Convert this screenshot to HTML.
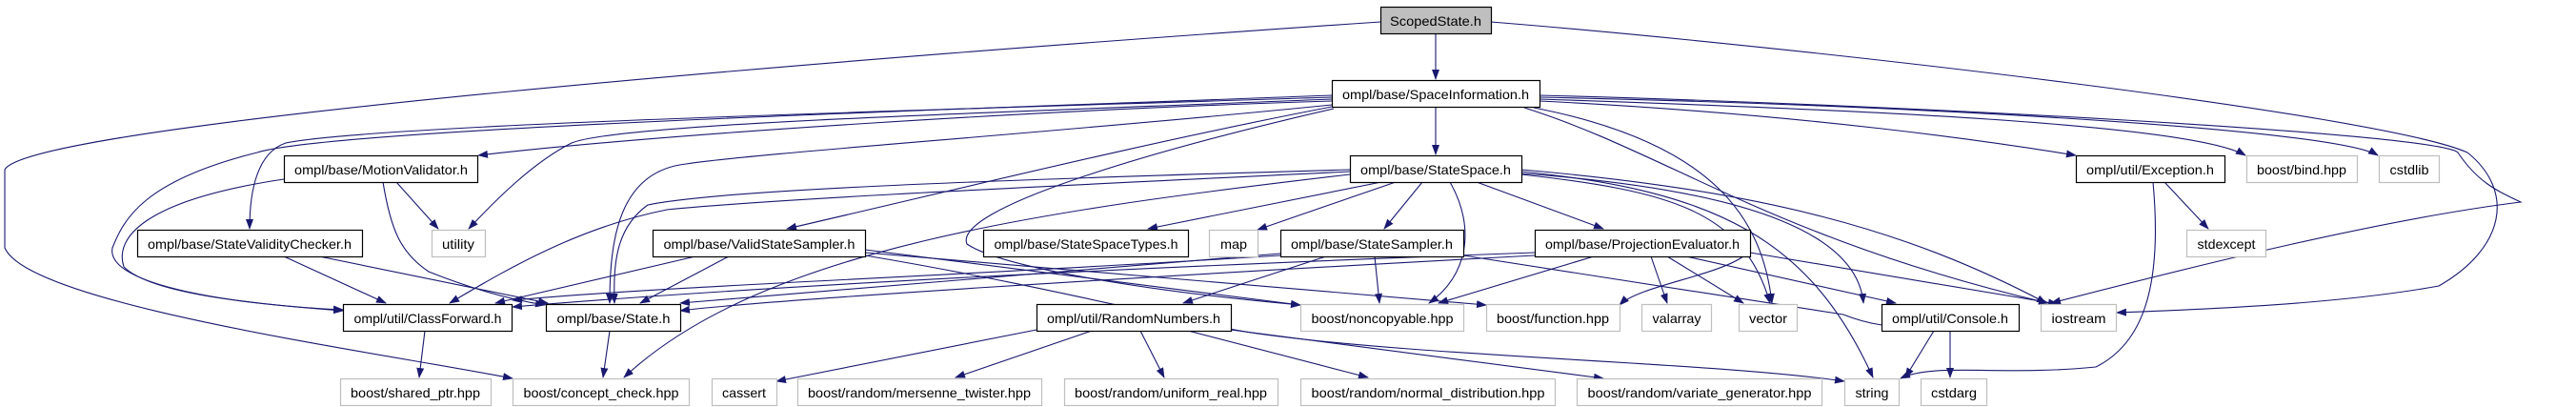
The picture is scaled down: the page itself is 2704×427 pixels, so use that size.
<!DOCTYPE html>
<html><head><meta charset="utf-8"><style>
html,body{margin:0;padding:0;background:#fff;}
svg{display:block;}
text{font-family:"Liberation Sans",sans-serif;font-size:14px;fill:#000;}
</style></head><body>
<svg width="2704" height="427" viewBox="0 0 2704 427" xmlns="http://www.w3.org/2000/svg">
<defs>
<marker id="a" markerWidth="11" markerHeight="8" refX="10" refY="4" orient="auto" markerUnits="userSpaceOnUse">
<path d="M0,0 L11,4 L0,8 z" fill="#191970"/>
</marker>
</defs>
<g fill="none" stroke="#191970" stroke-width="1.1" marker-end="url(#a)">
<!-- ScopedState -->
<path d="M1507,35 L1507,83"/>
<path d="M1449,23 C900,60 30,130 5,178 L5,260 C30,320 400,370 538,397"/>
<path d="M1565,23 C1900,50 2500,120 2590,160 C2640,200 2630,260 2560,300 C2450,320 2300,325 2222,328"/>
<!-- SpaceInformation -->
<path d="M1507,113 L1507,162"/>
<path d="M1398,106 C1100,115 700,140 502,163"/>
<path d="M1398,102 C1000,115 400,130 300,150 C270,160 262,200 262,240"/>
<path d="M1398,100 C1000,115 350,135 270,160 C150,190 130,230 118,260 C110,300 250,320 360,325"/>
<path d="M1398,104 C1000,120 650,130 600,150 C560,170 520,210 492,240"/>
<path d="M1398,110 C1100,140 800,160 720,172 C650,180 640,250 640,318"/>
<path d="M1398,112 C1200,150 1000,200 826,240"/>
<path d="M1400,114 C1200,160 1000,220 1015,256 C1050,280 1200,305 1365,320"/>
<path d="M1616,106 C1900,120 2100,150 2179,163"/>
<path d="M1616,104 C1950,115 2300,130 2357,163"/>
<path d="M1616,102 C2000,110 2450,135 2496,163"/>
<path d="M1616,100 C2000,110 2560,140 2580,160 C2600,190 2620,200 2646,212 C2500,230 2300,280 2153,318"/>
<path d="M1610,113 C1800,150 1850,230 1860,318"/>
<path d="M1600,113 C1750,160 1860,250 2150,318"/>
<!-- StateSpace -->
<path d="M1450,191 L1205,240"/>
<path d="M1465,191 L1320,241"/>
<path d="M1493,191 L1453,240"/>
<path d="M1522,191 C1550,240 1540,290 1500,318"/>
<path d="M1550,191 L1683,240"/>
<path d="M1417,180 C1000,200 800,210 700,220 C600,240 520,290 472,318"/>
<path d="M1417,178 C1000,190 750,200 680,215 C645,240 644,280 645,318"/>
<path d="M1417,183 C1100,220 800,260 655,396"/>
<path d="M1597,183 C1750,200 1830,220 1858,318"/>
<path d="M1597,180 C1800,200 1900,250 1966,396"/>
<path d="M1597,182 C1850,200 1950,250 1956,318"/>
<path d="M1597,178 C1850,200 2000,240 2148,318"/>
<!-- ValidStateSampler -->
<path d="M730,269 L520,318"/>
<path d="M765,269 L672,318"/>
<path d="M908,262 L1365,320"/>
<path d="M908,265 L1560,320"/>
<path d="M908,268 C1100,300 1250,340 1320,350 C1500,375 1800,380 1936,400"/>
<!-- StateSampler -->
<path d="M1392,269 L1242,318"/>
<path d="M1443,269 L1448,318"/>
<path d="M1344,268 C1000,290 700,300 538,315"/>
<path d="M1344,266 C1000,295 800,310 714,318"/>
<path d="M1536,268 L1935,330 C1960,340 1990,345 2000,340"/>
<!-- ProjectionEvaluator -->
<path d="M1673,269 L1510,318"/>
<path d="M1733,269 L1750,318"/>
<path d="M1750,269 L1830,318"/>
<path d="M1770,269 L1990,318"/>
<path d="M1837,265 L2160,319"/>
<path d="M1611,265 C1200,280 800,300 538,322"/>
<path d="M1611,268 C1200,290 800,315 714,326"/>
<path d="M1830,269 C1800,290 1720,300 1700,320"/>
<!-- MotionValidator -->
<path d="M298,188 C150,210 120,250 130,280 C160,310 280,320 360,326"/>
<path d="M416,191 L460,240"/>
<path d="M402,191 C410,240 420,265 450,285 C500,305 540,315 572,320"/>
<!-- StateValidityChecker -->
<path d="M298,269 L405,318"/>
<path d="M335,269 L575,318"/>
<!-- ClassForward / State -->
<path d="M446,347 L440,396"/>
<path d="M640,347 L633,396"/>
<!-- RandomNumbers -->
<path d="M1088,346 L815,400"/>
<path d="M1146,347 L1003,396"/>
<path d="M1197,347 L1222,396"/>
<path d="M1247,347 L1436,396"/>
<path d="M1292,346 L1683,397"/>
<!-- Exception -->
<path d="M2272,191 L2318,240"/>
<path d="M2260,191 C2270,300 2250,360 2200,385 C2100,395 2030,380 1995,397"/>
<!-- Console -->
<path d="M2030,347 L2000,396"/>
<path d="M2047,347 L2047,396"/>
</g>
<g stroke-width="1.2">
<rect x="1449.5" y="7.5" width="116" height="28" fill="#bfbfbf" stroke="#000"/>
<g fill="#fff" stroke="#000">
<rect x="1398.5" y="84.5" width="218" height="28"/>
<rect x="298.5" y="163.5" width="203" height="28"/>
<rect x="1417.5" y="163.5" width="180" height="28"/>
<rect x="2179.5" y="163.5" width="156" height="28"/>
<rect x="144.5" y="241.5" width="236" height="28"/>
<rect x="685.5" y="241.5" width="223" height="28"/>
<rect x="1032.5" y="241.5" width="215" height="28"/>
<rect x="1344.5" y="241.5" width="192" height="28"/>
<rect x="1611.5" y="241.5" width="226" height="28"/>
<rect x="360.5" y="319.5" width="177" height="28"/>
<rect x="573.5" y="319.5" width="141" height="28"/>
<rect x="1088.5" y="319.5" width="204" height="28"/>
<rect x="1975.5" y="319.5" width="144" height="28"/>
</g>
<g fill="#fff" stroke="#bfbfbf">
<rect x="453.5" y="241.5" width="56" height="28"/>
<rect x="1269.5" y="241.5" width="51" height="28"/>
<rect x="2358.5" y="163.5" width="116" height="28"/>
<rect x="2497.5" y="163.5" width="63" height="28"/>
<rect x="2295.5" y="241.5" width="83" height="28"/>
<rect x="1365.5" y="319.5" width="171" height="28"/>
<rect x="1560.5" y="319.5" width="140" height="28"/>
<rect x="1723.5" y="319.5" width="73" height="28"/>
<rect x="1825.5" y="319.5" width="61" height="28"/>
<rect x="2142.5" y="319.5" width="79" height="28"/>
<rect x="357.5" y="397.5" width="158" height="28"/>
<rect x="538.5" y="397.5" width="185" height="28"/>
<rect x="747.5" y="397.5" width="68" height="28"/>
<rect x="837.5" y="397.5" width="256" height="28"/>
<rect x="1117.5" y="397.5" width="224" height="28"/>
<rect x="1365.5" y="397.5" width="267" height="28"/>
<rect x="1655.5" y="397.5" width="257" height="28"/>
<rect x="1936.5" y="397.5" width="57" height="28"/>
<rect x="2016.5" y="397.5" width="69" height="28"/>
</g>
</g>
<g text-anchor="middle">
<text x="1507" y="27" textLength="96" lengthAdjust="spacingAndGlyphs">ScopedState.h</text>
<text x="1507" y="104" textLength="196" lengthAdjust="spacingAndGlyphs">ompl/base/SpaceInformation.h</text>
<text x="400" y="183" textLength="182" lengthAdjust="spacingAndGlyphs">ompl/base/MotionValidator.h</text>
<text x="1507" y="183" textLength="158" lengthAdjust="spacingAndGlyphs">ompl/base/StateSpace.h</text>
<text x="2257" y="183" textLength="134" lengthAdjust="spacingAndGlyphs">ompl/util/Exception.h</text>
<text x="2416" y="183" textLength="94" lengthAdjust="spacingAndGlyphs">boost/bind.hpp</text>
<text x="2529" y="183" textLength="41" lengthAdjust="spacingAndGlyphs">cstdlib</text>
<text x="262" y="261" textLength="214" lengthAdjust="spacingAndGlyphs">ompl/base/StateValidityChecker.h</text>
<text x="481" y="261" textLength="34" lengthAdjust="spacingAndGlyphs">utility</text>
<text x="797" y="261" textLength="201" lengthAdjust="spacingAndGlyphs">ompl/base/ValidStateSampler.h</text>
<text x="1140" y="261" textLength="193" lengthAdjust="spacingAndGlyphs">ompl/base/StateSpaceTypes.h</text>
<text x="1295" y="261" textLength="28" lengthAdjust="spacingAndGlyphs">map</text>
<text x="1440" y="261" textLength="170" lengthAdjust="spacingAndGlyphs">ompl/base/StateSampler.h</text>
<text x="1724" y="261" textLength="204" lengthAdjust="spacingAndGlyphs">ompl/base/ProjectionEvaluator.h</text>
<text x="2337" y="261" textLength="61" lengthAdjust="spacingAndGlyphs">stdexcept</text>
<text x="449" y="339" textLength="155" lengthAdjust="spacingAndGlyphs">ompl/util/ClassForward.h</text>
<text x="644" y="339" textLength="119" lengthAdjust="spacingAndGlyphs">ompl/base/State.h</text>
<text x="1190" y="339" textLength="182" lengthAdjust="spacingAndGlyphs">ompl/util/RandomNumbers.h</text>
<text x="1451" y="339" textLength="149" lengthAdjust="spacingAndGlyphs">boost/noncopyable.hpp</text>
<text x="1630" y="339" textLength="118" lengthAdjust="spacingAndGlyphs">boost/function.hpp</text>
<text x="1760" y="339" textLength="51" lengthAdjust="spacingAndGlyphs">valarray</text>
<text x="1856" y="339" textLength="40" lengthAdjust="spacingAndGlyphs">vector</text>
<text x="2047" y="339" textLength="122" lengthAdjust="spacingAndGlyphs">ompl/util/Console.h</text>
<text x="2182" y="339" textLength="57" lengthAdjust="spacingAndGlyphs">iostream</text>
<text x="436" y="417" textLength="136" lengthAdjust="spacingAndGlyphs">boost/shared_ptr.hpp</text>
<text x="631" y="417" textLength="163" lengthAdjust="spacingAndGlyphs">boost/concept_check.hpp</text>
<text x="781" y="417" textLength="46" lengthAdjust="spacingAndGlyphs">cassert</text>
<text x="965" y="417" textLength="234" lengthAdjust="spacingAndGlyphs">boost/random/mersenne_twister.hpp</text>
<text x="1229" y="417" textLength="202" lengthAdjust="spacingAndGlyphs">boost/random/uniform_real.hpp</text>
<text x="1499" y="417" textLength="245" lengthAdjust="spacingAndGlyphs">boost/random/normal_distribution.hpp</text>
<text x="1784" y="417" textLength="235" lengthAdjust="spacingAndGlyphs">boost/random/variate_generator.hpp</text>
<text x="1965" y="417" textLength="35" lengthAdjust="spacingAndGlyphs">string</text>
<text x="2051" y="417" textLength="48" lengthAdjust="spacingAndGlyphs">cstdarg</text>
</g>
</svg>
</body></html>
